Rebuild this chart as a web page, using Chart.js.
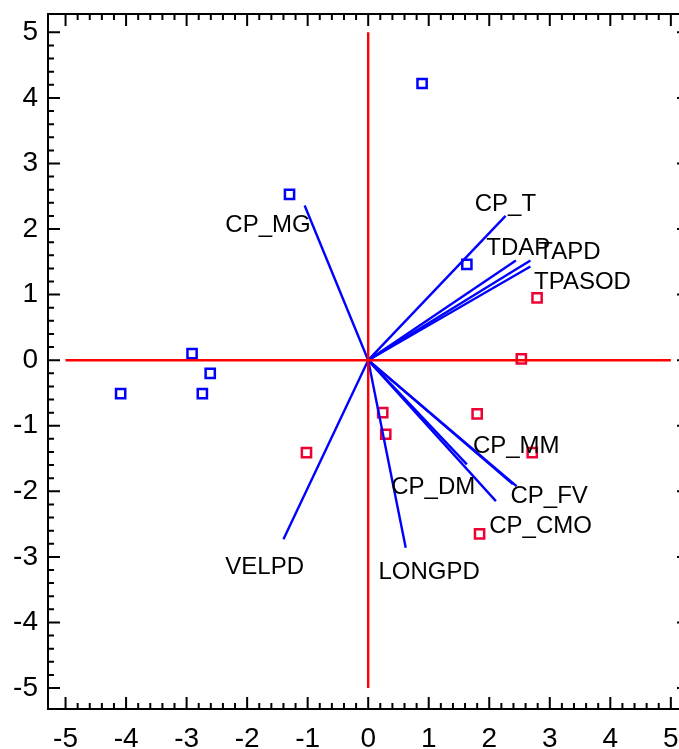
<!DOCTYPE html>
<html lang="en">
<head>
<meta charset="UTF-8" />
<title>Biplot</title>
<script src="https://cdn.jsdelivr.net/npm/chart.js"></script>
<style>
    html, body { margin: 0; padding: 0; background: #fff; overflow: hidden; }
    #wrap { width: 698px; height: 749px; }
</style>
</head>
<body>
<div id="wrap"><canvas id="biplot" width="698" height="749"></canvas></div>
<script>
    // Observation scores (squares)
    const blueX = [0.89, -1.30, 1.63, -2.91, -2.61, -2.74, -4.09];
    const blueY = [4.22, 2.53, 1.46, 0.10, -0.20, -0.51, -0.51];
    const redX = [2.79, 2.53, 0.24, 0.29, 1.80, 2.71, 1.84, -1.02];
    const redY = [0.95, 0.02, -0.80, -1.13, -0.82, -1.41, -2.65, -1.41];

    // Variable vectors (from origin) and their labels
    const varNames = ["CP_MG", "CP_T", "TDAP", "TAPD", "TPASOD", "CP_DM", "CP_CMO", "CP_MM", "CP_FV", "LONGPD", "VELPD"];
    const varX = [-1.05, 2.27, 2.44, 2.68, 2.68, 1.63, 2.11, 2.39, 2.45, 0.62, -1.40];
    const varY = [2.36, 2.20, 1.52, 1.52, 1.43, -1.59, -2.15, -1.89, -1.92, -2.86, -2.73];
    const labelX = [-2.36, 1.76, 1.95, 2.81, 2.74, 0.38, 2.00, 1.73, 2.35, 0.17, -2.36];
    const labelY = [2.06, 2.38, 1.71, 1.64, 1.18, -1.94, -2.54, -1.31, -2.08, -3.23, -3.16];

    const tickValues = [-5, -4, -3, -2, -1, 0, 1, 2, 3, 4, 5];

    const toPoints = (xs, ys) => xs.map((x, i) => ({ x: x, y: ys[i] }));

    let datasets = [
        { // red reference axes
            type: "line", data: [{ x: -5, y: 0 }, { x: 5, y: 0 }],
            borderColor: "#ff0000", borderWidth: 2.4, pointRadius: 0, showLine: true
        },
        {
            type: "line", data: [{ x: 0, y: -5 }, { x: 0, y: 5 }],
            borderColor: "#ff0000", borderWidth: 2.4, pointRadius: 0, showLine: true
        }
    ];
    varX.forEach((vx, i) => {
        datasets.push({
            type: "line", data: [{ x: 0, y: 0 }, { x: vx, y: varY[i] }],
            borderColor: "#0000ff", borderWidth: 2.4, pointRadius: 0, showLine: true
        });
    });
    datasets.push({
        data: toPoints(blueX, blueY), pointStyle: "rect", pointRadius: 6.5,
        borderColor: "#0000ff", backgroundColor: "rgba(0,0,0,0)", pointBorderWidth: 2.5
    });
    datasets.push({
        data: toPoints(redX, redY), pointStyle: "rect", pointRadius: 6.5,
        borderColor: "#ee0033", backgroundColor: "rgba(0,0,0,0)", pointBorderWidth: 2.5
    });

    // frame with inward major/minor ticks, and vector labels
    const framePlugin = {
        id: "frame",
        afterDatasetsDraw(chart) {
            const ctx = chart.ctx;
            const a = chart.chartArea;
            const xs = chart.scales.x, ys = chart.scales.y;
            ctx.save();
            ctx.font = "24px 'Liberation Sans', Arial, sans-serif";
            ctx.fillStyle = "#000";
            ctx.textBaseline = "middle";
            ctx.textAlign = "left";
            varNames.forEach((n, i) => {
                ctx.fillText(n, xs.getPixelForValue(labelX[i]), ys.getPixelForValue(labelY[i]));
            });

            ctx.strokeStyle = "#000";
            ctx.lineWidth = 2;
            ctx.strokeRect(a.left, a.top, a.right - a.left, a.bottom - a.top);
            ctx.beginPath();
            for (let k = -25; k <= 25; k++) {
                const v = k / 5;
                const len = k % 5 === 0 ? 12 : 6;
                const px = xs.getPixelForValue(v);
                const py = ys.getPixelForValue(v);
                ctx.moveTo(px, a.bottom); ctx.lineTo(px, a.bottom - len);
                ctx.moveTo(px, a.top); ctx.lineTo(px, a.top + len);
                ctx.moveTo(a.left, py); ctx.lineTo(a.left + len, py);
                ctx.moveTo(a.right, py); ctx.lineTo(a.right - len, py);
            }
            ctx.stroke();
            ctx.restore();
        }
    };

    const tickFont = { family: "'Liberation Sans', Arial, sans-serif", size: 28 };
    const noPad = (s) => { s.paddingTop = 0; s.paddingBottom = 0; s.paddingLeft = 0; s.paddingRight = 0; };

    new Chart(document.getElementById("biplot"), {
        type: "scatter",
        data: { datasets: datasets },
        options: {
            responsive: false,
            animation: false,
            layout: { padding: { top: 14, right: 3, left: 0, bottom: 0 } },
            plugins: { legend: { display: false }, tooltip: { enabled: false } },
            scales: {
                x: {
                    type: "linear", min: -5.29, max: 5.3,
                    grid: { display: false, drawTicks: false },
                    border: { display: false },
                    ticks: { font: tickFont, color: "#000", padding: 13, maxRotation: 0 },
                    afterBuildTicks: (s) => { s.ticks = tickValues.map(v => ({ value: v })); },
                    afterFit: (s) => { s.height = 40; noPad(s); }
                },
                y: {
                    type: "linear", min: -5.32, max: 5.28,
                    grid: { display: false, drawTicks: false },
                    border: { display: false },
                    ticks: { font: tickFont, color: "#000", padding: 10 },
                    afterBuildTicks: (s) => { s.ticks = tickValues.map(v => ({ value: v })); },
                    afterFit: (s) => { s.width = 48; noPad(s); }
                }
            }
        },
        plugins: [framePlugin]
    });
</script>
</body>
</html>
